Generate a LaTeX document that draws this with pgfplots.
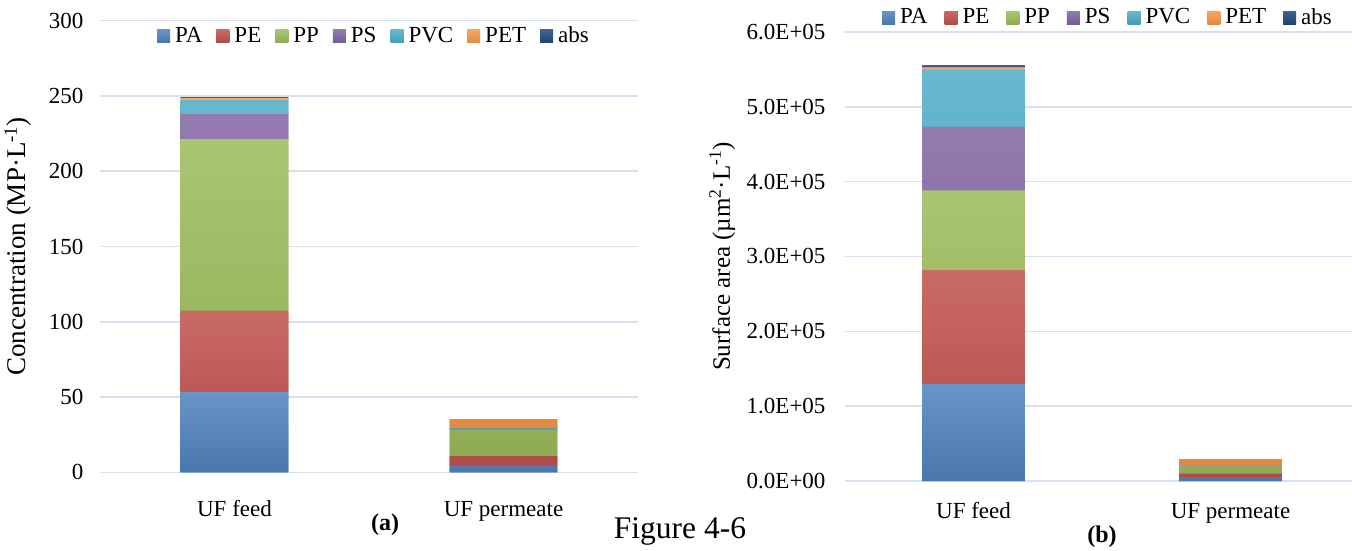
\documentclass[border=0pt]{standalone}
\usepackage{fontspec}
\setmainfont{Liberation Serif}
\usepackage{pgfplots}
\pgfplotsset{compat=1.18}
\definecolor{cPA}{HTML}{4F81BD}
\definecolor{cPE}{HTML}{C0504D}
\definecolor{cPP}{HTML}{9BBB59}
\definecolor{cPS}{HTML}{8064A2}
\definecolor{cPVC}{HTML}{4BACC6}
\definecolor{cPET}{HTML}{F79646}
\definecolor{cabs}{HTML}{1F497D}
\definecolor{gridc}{RGB}{214,224,240}
\pgfplotsset{
  mybars/.style={
    scale only axis, anchor=south west,
    ybar stacked, bar width=0.4,
    xmin=-0.5, xmax=1.5, ymin=0,
    xtick={0,1}, xticklabels={UF feed, UF permeate},
    ymajorgrids, major grid style={gridc, line width=1.5pt},
    axis line style={draw=none}, major tick length=0pt,
    scaled y ticks=false,
    tick label style={font=\fontsize{23}{27}\selectfont},
    legend style={draw=none, fill=none, legend columns=-1,
      font=\fontsize{23}{27}\selectfont,
      nodes={font=\fontsize{23}{27}\selectfont},
      /tikz/every odd column/.append style={column sep=3pt}},
    legend image code/.code={\fill[##1] (0pt,-7pt) rectangle (13pt,6pt);},
  },
  sh/.style={draw=none, top color=#1!85!white, bottom color=#1!92!black, fill=#1},
}
\begin{document}%
\begin{tikzpicture}[font=\fontsize{23}{27}\selectfont]%
\useasboundingbox (0pt,0pt) rectangle (1352pt,550pt);
\begin{axis}[mybars,
  at={(100pt,77.7pt)}, width=538pt, height=451.6pt,
  ymax=300, ytick={0,50,100,150,200,250,300},
  yticklabels={0,50,100,150,200,250,300},
  yticklabel style={anchor=east, xshift=-13pt},
  xticklabel style={anchor=base, yshift=-44pt},
  ylabel={Concentration (MP·L\textsuperscript{-1})},
  ylabel style={at={(axis description cs:-0.1524,0.5)}, anchor=center, font=\fontsize{27}{31}\selectfont},
  legend style={at={(axis description cs:0.5,1)}, anchor=center, yshift=-15pt, xshift=5pt,
    /tikz/every even column/.append style={column sep=12pt}},
]
\addplot[sh=cPA] coordinates {(0,53.3) (1,4.7)};
\addplot[sh=cPE] coordinates {(0,54.0) (1,6.0)};
\addplot[sh=cPP] coordinates {(0,114.0) (1,17.1)};
\addplot[sh=cPS] coordinates {(0,16.7) (1,0.3)};
\addplot[sh=cPVC] coordinates {(0,9.3) (1,1.0)};
\addplot[sh=cPET] coordinates {(0,1.3) (1,6.2)};
\addplot[sh=cabs] coordinates {(0,0.6) (1,0)};
\legend{PA,PE,PP,PS,PVC,PET,abs}
\end{axis}
\begin{axis}[mybars,
  at={(845pt,69pt)}, width=514pt, height=449pt,
  ymax=600000, ytick={0,100000,200000,300000,400000,500000,600000},
  yticklabels={0.0E+00,1.0E+05,2.0E+05,3.0E+05,4.0E+05,5.0E+05,6.0E+05},
  yticklabel style={anchor=east, xshift=-16pt},
  xticklabel style={anchor=base, yshift=-37pt},
  ylabel={Surface area (µm\textsuperscript{2}·L\textsuperscript{-1})},
  ylabel style={at={(axis description cs:-0.239,0.5)}, anchor=center, font=\fontsize{25}{29}\selectfont},
  legend style={at={(axis description cs:0.5,1)}, anchor=center, yshift=15pt, xshift=6pt,
    /tikz/every even column/.append style={column sep=15pt}},
]
\addplot[sh=cPA] coordinates {(0,129300) (1,4400)};
\addplot[sh=cPE] coordinates {(0,152000) (1,5000)};
\addplot[sh=cPP] coordinates {(0,106700) (1,8900)};
\addplot[sh=cPS] coordinates {(0,85300) (1,300)};
\addplot[sh=cPVC] coordinates {(0,76000) (1,500)};
\addplot[sh=cPET] coordinates {(0,3600) (1,10300)};
\addplot[sh=cabs] coordinates {(0,3000) (1,0)};
\legend{PA,PE,PP,PS,PVC,PET,abs}
\end{axis}
\node[font=\bfseries\fontsize{24}{28}\selectfont, anchor=base] at (385pt,20pt) {(a)};
\node[font=\fontsize{31.5}{36}\selectfont, anchor=base] at (680pt,12pt) {Figure 4-6};
\node[font=\bfseries\fontsize{24}{28}\selectfont, anchor=base] at (1102pt,8pt) {(b)};
\end{tikzpicture}%
\end{document}
